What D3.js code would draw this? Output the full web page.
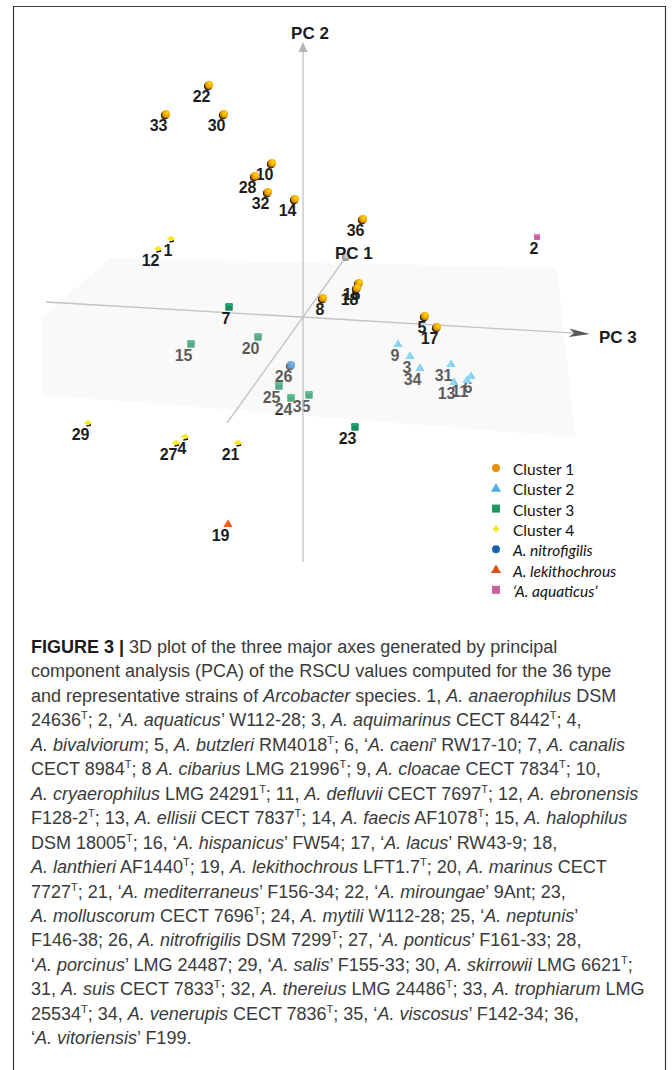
<!DOCTYPE html>
<html>
<head>
<meta charset="utf-8">
<script src="https://cdn.jsdelivr.net/npm/d3@7"></script>
<style>
  body { margin: 0; background: #fff; }
  svg { display: block; }
  text { white-space: pre; }
</style>
</head>
<body>
<div id="app"></div>
<script>
// groups shown in the legend
const groups = ['Cluster 1', 'Cluster 2', 'Cluster 3', 'Cluster 4', 'A. nitrofigilis', 'A. lekithochrous', '‘A. aquaticus’'];
const groupItalic = [false, false, false, false, true, true, true];

// strains 1..36: group index, projected position on screen plane, side of the PC1/PC3 plane (1 = behind)
const strainIds = d3.range(1, 37);
const strainGroup = [3, 6, 1, 3, 0, 1, 2, 0, 1, 0, 1, 3, 1, 0, 2, 0, 0, 0, 5, 2, 3, 0, 2, 2, 2, 4, 3, 0, 3, 0, 1, 0, 0, 1, 2, 0];
const projX = [-13.2, 23.4, 10.7, -11.8, 12.2, 16.8, -7.4, 2.0, 9.5, -3.1, 16.4, -14.5, 15.1, -0.8, -11.2, 5.6, 13.4, 5.4,
  -7.5, -4.5, -6.5, -9.4, 5.2, -1.2, -2.4, -1.2, -12.7, -4.8, -21.5, -7.9, 14.8, -3.5, -13.7, 11.7, 0.6, 6.0];
const projY = [7.8, 8.0, -3.9, -12.0, 0.1, -5.9, 1.0, 1.9, -2.7, 15.4, -6.3, 6.8, -6.5, 11.8, -2.7, 3.4, -1.0, 2.9,
  -20.7, -2.0, -12.6, 23.2, -11.0, -8.1, -6.9, -4.8, -12.6, 14.1, -10.6, 20.3, -4.7, 12.5, 20.3, -5.1, -7.8, 9.8];
const behindPlane = [0, 0, 1, 0, 0, 1, 0, 0, 1, 0, 1, 0, 1, 0, 1, 0, 0, 0, 0, 1, 0, 0, 0, 1, 1, 1, 0, 0, 0, 0, 1, 0, 0, 1, 1, 0];

// axes (projected units), plane outline
const axisNames = ['PC 1', 'PC 2', 'PC 3'];
const axisFrom = [[-7.6, -10.6], [0, -24.5], [-25.7, 1.5]];
const axisTo = [[4.3, 6.0], [0, 27.5], [28.7, -1.7]];
const planeCorners = [[-26.1, -0.1], [-19.3, 5.9], [25.4, 4.9], [27.2, -12.0], [-26.1, -7.8]];

const captionLines = [
  '**FIGURE 3 |** 3D plot of the three major axes generated by principal',
  'component analysis (PCA) of the RSCU values computed for the 36 type',
  'and representative strains of _Arcobacter_ species. 1, _A. anaerophilus_ DSM',
  '24636^T; 2, ‘_A. aquaticus_’ W112-28; 3, _A. aquimarinus_ CECT 8442^T; 4,',
  '_A. bivalviorum_; 5, _A. butzleri_ RM4018^T; 6, ‘_A. caeni_’ RW17-10; 7, _A. canalis_',
  'CECT 8984^T; 8 _A. cibarius_ LMG 21996^T; 9, _A. cloacae_ CECT 7834^T; 10,',
  '_A. cryaerophilus_ LMG 24291^T; 11, _A. defluvii_ CECT 7697^T; 12, _A. ebronensis_',
  'F128-2^T; 13, _A. ellisii_ CECT 7837^T; 14, _A. faecis_ AF1078^T; 15, _A. halophilus_',
  'DSM 18005^T; 16, ‘_A. hispanicus_’ FW54; 17, ‘_A. lacus_’ RW43-9; 18,',
  '_A. lanthieri_ AF1440^T; 19, _A. lekithochrous_ LFT1.7^T; 20, _A. marinus_ CECT',
  '7727^T; 21, ‘_A. mediterraneus_’ F156-34; 22, ‘_A. miroungae_’ 9Ant; 23,',
  '_A. molluscorum_ CECT 7696^T; 24, _A. mytili_ W112-28; 25, ‘_A. neptunis_’',
  'F146-38; 26, _A. nitrofrigilis_ DSM 7299^T; 27, ‘_A. ponticus_’ F161-33; 28,',
  '‘_A. porcinus_’ LMG 24487; 29, ‘_A. salis_’ F155-33; 30, _A. skirrowii_ LMG 6621^T;',
  '31, _A. suis_ CECT 7833^T; 32, _A. thereius_ LMG 24486^T; 33, _A. trophiarum_ LMG',
  '25534^T; 34, _A. venerupis_ CECT 7836^T; 35, ‘_A. viscosus_’ F142-34; 36,',
  '‘_A. vitoriensis_’ F199.'
];

const width = 672;
const height = 1070;

const markerColor = ['#f2a200', '#55b6ec', '#1b8d5c', '#f6ec1c', '#2f7fd0', '#e0561a', '#c8609c'];
const markerShape = ['sphere', 'triangle', 'cube', 'diamond', 'sphere', 'triangle', 'cube'];
const legendColor = ['#e8900c', '#4aaee6', '#1f9461', '#f2e82c', '#1c5fae', '#d8540e', '#c8609c'];
const legendShape = ['circle', 'triangle', 'square', 'diamond', 'circle', 'triangle', 'square'];

const x = d3.scaleLinear().domain([-30, 30]).range([3, 603]);
const y = d3.scaleLinear().domain([-30, 30]).range([617, 17]);

const svg = d3.select('#app').append('svg')
  .attr('width', width)
  .attr('height', height);

const defs = svg.append('defs');
markerColor.concat(['#a8a8a8']).forEach((c, i) => {
  const g = defs.append('radialGradient').attr('id', `ball${i}`)
    .attr('cx', 0.62).attr('cy', 0.35).attr('r', 0.75);
  g.append('stop').attr('offset', 0).attr('stop-color', d3.color(c).brighter(0.9));
  g.append('stop').attr('offset', 0.55).attr('stop-color', c);
  g.append('stop').attr('offset', 1).attr('stop-color', d3.color(c).darker(0.9));
});

// frame
svg.append('path')
  .attr('d', `M13.5,${height} V6.5 H665.5 V${height}`)
  .attr('fill', 'none')
  .attr('stroke', '#3a3a3a')
  .attr('stroke-width', 1.2);

const points = strainIds.map((id, i) => ({
  id, g: strainGroup[i], px: x(projX[i]), py: y(projY[i]), back: behindPlane[i]
}));

const drawMarker = (sel, d) => {
  const c = markerColor[d.g];
  const shape = markerShape[d.g];
  if (shape === 'sphere') {
    sel.append('circle').attr('cx', d.px - 1).attr('cy', d.py + 1.3).attr('r', 4.1).attr('fill', '#3a2a08');
    sel.append('circle').attr('cx', d.px).attr('cy', d.py).attr('r', 4).attr('fill', `url(#ball${d.g})`);
  } else if (shape === 'triangle') {
    sel.append('path')
      .attr('d', `M${d.px},${d.py - 4.5} L${d.px + 4.5},${d.py + 3} L${d.px - 4.5},${d.py + 3} Z`)
      .attr('fill', c);
    sel.append('path')
      .attr('d', `M${d.px},${d.py - 4.5} L${d.px + 1.5},${d.py + 3} L${d.px - 4.5},${d.py + 3} Z`)
      .attr('fill', d3.color(c).brighter(0.4));
  } else if (shape === 'cube') {
    const s = d.g === 6 ? 6 : 7.5;
    sel.append('rect').attr('x', d.px - s / 2).attr('y', d.py - s / 2).attr('width', s).attr('height', s)
      .attr('rx', 1).attr('fill', c);
    sel.append('rect').attr('x', d.px - s / 2).attr('y', d.py - s / 2).attr('width', s).attr('height', s / 3)
      .attr('rx', 1).attr('fill', d3.color(c).brighter(0.5));
  } else {
    sel.append('path')
      .attr('d', `M${d.px - 1.5},${d.py + 3} L${d.px + 3},${d.py + 1.8}`)
      .attr('stroke', '#1a1a1a').attr('stroke-width', 1.8);
    sel.append('path')
      .attr('d', `M${d.px},${d.py - 3.2} L${d.px + 4.5},${d.py} L${d.px},${d.py + 2.2} L${d.px - 4.5},${d.py} Z`)
      .attr('fill', c);
  }
};

const drawPoints = (layer) => {
  layer.forEach(d => {
    const g = svg.append('g');
    drawMarker(g, d);
    g.append('text')
      .attr('x', d.px + 1.5)
      .attr('y', d.py + 11)
      .attr('text-anchor', 'end')
      .attr('dominant-baseline', 'central')
      .attr('font-family', 'Liberation Sans, Arial, sans-serif')
      .attr('font-weight', 'bold')
      .attr('font-size', 16)
      .attr('fill', '#1c1c1c')
      .text(d.id);
  });
};

// 1. points behind the plane
drawPoints(points.filter(d => d.back));

// 2. translucent plane
svg.append('path')
  .attr('d', d3.line()(planeCorners.map(p => [x(p[0]), y(p[1])])) + 'Z')
  .attr('fill', '#ececec')
  .attr('fill-opacity', 0.3);

// 3. axes
axisNames.forEach((name, i) => {
  const a = [x(axisFrom[i][0]), y(axisFrom[i][1])];
  const b = [x(axisTo[i][0]), y(axisTo[i][1])];
  const len = Math.hypot(b[0] - a[0], b[1] - a[1]);
  const ux = (b[0] - a[0]) / len, uy = (b[1] - a[1]) / len;
  const head = i === 0 ? 0 : (i === 1 ? 10 : 21);
  svg.append('line')
    .attr('x1', a[0]).attr('y1', a[1])
    .attr('x2', b[0] - ux * head * 0.7).attr('y2', b[1] - uy * head * 0.7)
    .attr('stroke', '#c2c2c2').attr('stroke-width', 1.3);
  if (i === 0) {
    svg.append('circle').attr('cx', b[0]).attr('cy', b[1]).attr('r', 4).attr('fill', 'url(#ball7)');
    svg.append('text').attr('x', b[0] - 11).attr('y', b[1] - 4)
      .attr('dominant-baseline', 'central')
      .attr('font-family', 'Liberation Sans, Arial, sans-serif')
      .attr('font-weight', 'bold').attr('font-size', 17).attr('fill', '#1c1c1c')
      .text(name);
  } else {
    const hw = i === 1 ? 4.5 : 4.2;
    const notch = i === 1 ? 0 : 5;
    const bx = b[0] - ux * head, by = b[1] - uy * head;
    svg.append('path')
      .attr('d', `M${b[0]},${b[1]} L${bx - uy * hw},${by + ux * hw} L${bx + ux * notch},${by + uy * notch} L${bx + uy * hw},${by - ux * hw} Z`)
      .attr('fill', i === 1 ? '#b5b5b5' : '#5a5a5a');
    const lx = i === 1 ? b[0] + 7 : b[0] + 9;
    const ly = i === 1 ? b[1] - 9 : b[1] + 3;
    svg.append('text').attr('x', lx).attr('y', ly)
      .attr('text-anchor', i === 1 ? 'middle' : 'start')
      .attr('dominant-baseline', 'central')
      .attr('font-family', 'Liberation Sans, Arial, sans-serif')
      .attr('font-weight', 'bold').attr('font-size', 17).attr('fill', '#1c1c1c')
      .text(name);
  }
});

// 4. points in front of the plane
drawPoints(points.filter(d => !d.back));

// legend
const legend = svg.append('g').attr('transform', 'translate(496, 468)');
groups.forEach((name, i) => {
  const row = legend.append('g').attr('transform', `translate(0, ${i * 20.3})`);
  const c = legendColor[i];
  const sh = legendShape[i];
  if (sh === 'circle') row.append('circle').attr('r', 4).attr('fill', c);
  else if (sh === 'triangle') row.append('path').attr('d', 'M0,-5 L5,3.5 L-5,3.5 Z').attr('fill', c);
  else if (sh === 'square') row.append('rect').attr('x', -4).attr('y', -4).attr('width', 8).attr('height', 8).attr('fill', c);
  else row.append('path').attr('d', 'M0,-4 L3.5,0 L0,4 L-3.5,0 Z').attr('fill', c);
  row.append('text')
    .attr('x', 17)
    .attr('y', 1)
    .attr('dominant-baseline', 'central')
    .attr('font-family', 'Lato, "Open Sans", sans-serif')
    .attr('font-size', 15.5)
    .attr('font-style', groupItalic[i] ? 'italic' : 'normal')
    .attr('fill', '#111')
    .text(name);
});

// caption
const caption = svg.append('g')
  .attr('font-family', 'Liberation Sans, Arial, sans-serif')
  .attr('font-size', 18)
  .attr('fill', '#3a3a3a');

captionLines.forEach((line, i) => {
  const t = caption.append('text').attr('x', 31).attr('y', 653 + i * 24.45);
  const parts = line.split(/(\*\*[^*]+\*\*|_[^_]+_|\^T)/).filter(s => s.length);
  let raised = false;
  parts.forEach(p => {
    let ts;
    if (p.startsWith('**')) ts = t.append('tspan').attr('font-weight', 'bold').attr('fill', '#1a1a1a').text(p.slice(2, -2));
    else if (p.startsWith('_')) ts = t.append('tspan').attr('font-style', 'italic').text(p.slice(1, -1));
    else if (p === '^T') {
      t.append('tspan').attr('font-size', 11).attr('dy', -7).text('T');
      raised = true;
      return;
    } else ts = t.append('tspan').text(p);
    if (raised) { ts.attr('dy', 7); raised = false; }
  });
});
</script>
</body>
</html>
